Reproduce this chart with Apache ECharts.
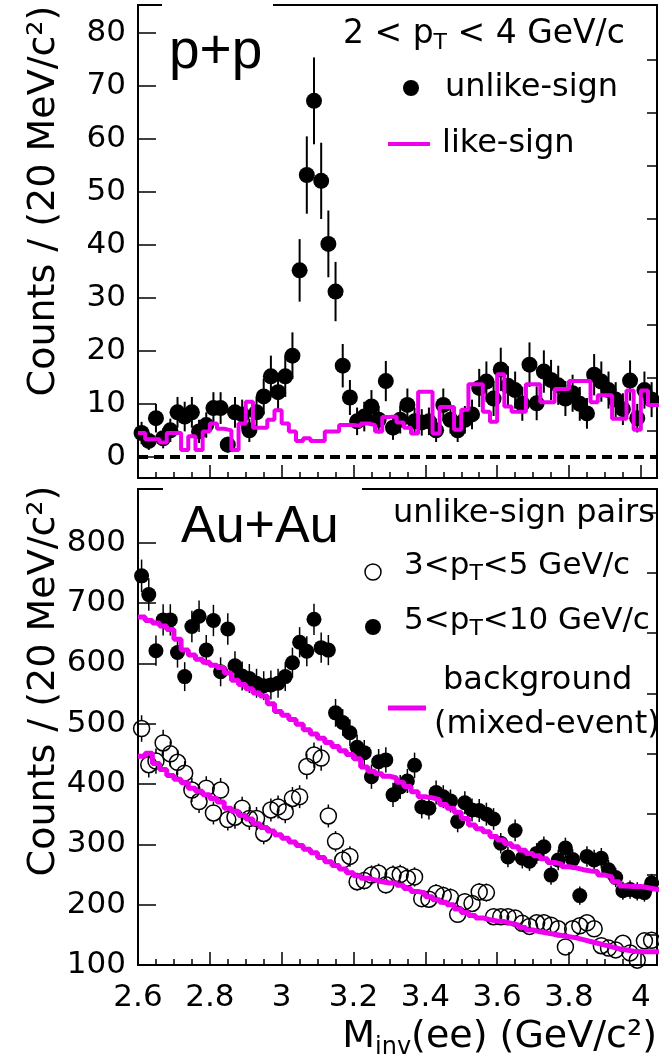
<!DOCTYPE html>
<html>
<head>
<meta charset="utf-8">
<script src="https://cdn.jsdelivr.net/npm/echarts@6/dist/echarts.min.js"></script>
<style>
  html, body { margin: 0; padding: 0; background: #fff; }
  #main { width: 659px; height: 1063px; }
</style>
</head>
<body>
<div id="main"></div>
<script>
var FONT = "'DejaVu Sans', sans-serif";
var BIG_FONT = "'Liberation Sans', Arial, sans-serif";
var MAG = '#ee00ee';

// 20 MeV bins starting at 2.6 GeV/c^2
var binStart = 2.6, binWidth = 0.02;

var xTicks = [2.6, 2.8, 3, 3.2, 3.4, 3.6, 3.8, 4];
var ppTicks = [0, 10, 20, 30, 40, 50, 60, 70, 80];
var ppMinor = [5, 15, 25, 35, 45, 55, 65, 75];
var auTicks = [100, 200, 300, 400, 500, 600, 700, 800];
var auMinor = [150, 250, 350, 450, 550, 650, 750, 850];

// p+p, 2<pT<4 : unlike-sign counts and errors
var ppUnlike = [4.5, 3, 7.3, 3.5, 5, 8.4, 7.6, 8.4, 4.8, 6, 9.2, 9.2, 2.3, 8.4, 8, 5, 8.4, 11.4, 15.2, 12.2,
  15.2, 19.1, 35.2, 53.2, 67.2, 52.1, 40.2, 31.2, 17.2, 11.2, 6.7, 7.6, 9.5, 7, 14.3, 5.5, 7, 9.8, 6.7, 6.5,
  6.7, 5, 9.8, 7, 5, 7, 8, 13, 14.2, 11, 16.5, 13.4, 12.6, 10, 17.4, 10.1, 16.1, 14.5, 13.5, 11,
  12, 10, 8.2, 15.5, 14.2, 12.6, 10.8, 9, 14.4, 7.3, 12.6, 10.8];
var ppUnlikeErr = [2.1, 1.7, 2.7, 1.9, 2.2, 2.9, 2.8, 2.9, 2.2, 2.4, 3, 3, 1.5, 2.9, 2.8, 2.2, 2.9, 3.4, 3.9, 3.5,
  3.9, 4.4, 5.9, 7.3, 8.2, 7.2, 6.3, 5.6, 4.1, 3.3, 2.6, 2.8, 3.1, 2.6, 3.8, 2.3, 2.6, 3.1, 2.6, 2.5,
  2.6, 2.2, 3.1, 2.6, 2.2, 2.6, 2.8, 3.6, 3.8, 3.3, 4.1, 3.7, 3.5, 3.2, 4.2, 3.2, 4, 3.8, 3.7, 3.3,
  3.5, 3.2, 2.9, 3.9, 3.8, 3.5, 3.3, 3, 3.8, 2.7, 3.5, 3.3];
// p+p like-sign histogram
var ppLike = [4.5, 3.3, 3.3, 2.7, 4.5, 4.5, 1.3, 3.9, 1.3, 4.8, 6.3, 5.3, 5, 1.3, 6.3, 10.4, 5.5, 5.5, 7, 8.8,
  6.3, 4.8, 3, 3.5, 3, 3, 4.8, 4.8, 6, 6, 5.8, 6.3, 6, 4.8, 7.5, 7.6, 6.5, 5.5, 4.4, 12.3,
  12.3, 4.4, 9.4, 9.4, 5.1, 8.9, 13.7, 13.7, 8.5, 6.6, 15.6, 9.5, 8.5, 8.5, 13.7, 13.7, 10.3, 10.3, 12.8, 12.8,
  14.3, 14.3, 14.3, 10.3, 11.6, 11.6, 7.2, 7.2, 12.5, 5.1, 12.5, 9.8, 9.8];

// Au+Au unlike-sign pairs
var auLow = [492, 432, 438, 468, 450, 436, 418, 390, 371, 393, 352, 390, 341, 345, 360, 343, 343, 318, 357, 362,
  354, 376, 379, 429, 448, 443, 347, 305, 274, 280, 238, 240, 249, 252, 233, 249, 250, 244, 246, 210,
  209, 219, 215, 212, 184, 205, 202, 221, 220, 180, 180, 180, 178, 169, 164, 170, 170, 166, 160, 130,
  160, 165, 170, 160, 132, 128, 125, 136, 120, 108, 140, 141];
var auLowErr = [22, 21, 21, 22, 21, 21, 20, 20, 19, 20, 19, 20, 18, 19, 19, 19, 19, 18, 19, 19,
  19, 19, 19, 21, 21, 21, 19, 17, 17, 17, 15, 15, 16, 16, 15, 16, 16, 16, 16, 14,
  14, 15, 15, 15, 14, 14, 14, 15, 15, 13, 13, 13, 13, 13, 13, 13, 13, 13, 13, 11,
  13, 13, 13, 13, 11, 11, 11, 12, 11, 10, 12, 12];
var auHigh = [745, 714, 621, 672, 672, 618, 578, 661, 678, 622, 671, 586, 657, 596, 579, 575, 567, 563, 564, 567,
  578, 601, 635, 620, 673, 626, 622, 518, 502, 485, 461, 452, 412, 437, 440, 382, 395, 405, 431, 362,
  360, 386, 379, 372, 338, 369, 357, 356, 350, 342, 302, 279, 323, 277, 272, 285, 296, 249, 274, 294,
  275, 215, 280, 274, 277, 258, 245, 223, 225, 222, 220, 236];
var auHighErr = [27, 27, 25, 26, 26, 25, 24, 26, 26, 25, 26, 24, 26, 24, 24, 24, 24, 24, 24, 24,
  24, 25, 25, 25, 26, 25, 25, 23, 22, 22, 21, 21, 20, 21, 21, 20, 20, 20, 21, 19,
  19, 20, 19, 19, 18, 19, 19, 19, 19, 18, 17, 17, 18, 17, 16, 17, 17, 16, 17, 17,
  17, 15, 17, 17, 17, 16, 16, 15, 15, 15, 15, 15];
// mixed-event backgrounds
var auBgLow = [446, 451, 434, 424, 414, 408, 402, 393, 388, 382, 376, 370, 360, 355, 348, 342, 334, 328, 322, 316,
  310, 304, 298, 292, 286, 278, 271, 265, 259, 253, 248, 244, 241, 238, 236, 236, 232, 227, 222, 219,
  213, 208, 204, 200, 193, 187, 182, 178, 175, 173, 172, 169, 166, 162, 158, 155, 153, 151, 149, 147,
  145, 142, 139, 136, 133, 130, 127, 125, 123, 122, 122, 122, 122];
var auBgHigh = [677, 671, 667, 662, 656, 640, 622, 614, 607, 602, 597, 593, 584, 572, 565, 558, 551, 546, 533, 520,
  514, 507, 499, 490, 483, 476, 469, 462, 455, 449, 442, 428, 421, 417, 413, 410, 403, 396, 387, 379,
  377, 374, 366, 360, 353, 343, 332, 326, 321, 313, 307, 301, 296, 290, 285, 281, 276, 270, 267, 263,
  261, 258, 256, 255, 249, 246, 238, 231, 230, 230, 228, 226, 224];

var xMinor = [];
for (var i = 1; i <= 28; i++) {
  if (i % 4 !== 0) xMinor.push(+(2.6 + 0.05 * i).toFixed(2));
}

function binCenter(k) { return +(binStart + binWidth * (k + 0.5)).toFixed(3); }
function points(vals, errs) {
  return vals.map(function (v, k) { return [binCenter(k), v, errs ? errs[k] : 0]; });
}
function steps(vals) {
  var d = vals.map(function (v, k) { return [+(binStart + binWidth * k).toFixed(3), v]; });
  d.push([+(binStart + binWidth * vals.length).toFixed(3), vals[vals.length - 1]]);
  return d;
}

function errorBars(gap, width) {
  return function (params, api) {
    var x = api.value(0), y = api.value(1), e = api.value(2);
    var c = api.coord([x, y]);
    var hi = api.coord([x, y + e]);
    var lo = api.coord([x, y - e]);
    var st = { stroke: '#000', lineWidth: width };
    var kids = [];
    if (c[1] - hi[1] > gap) kids.push({ type: 'line', shape: { x1: c[0], y1: hi[1], x2: c[0], y2: c[1] - gap }, style: st });
    if (lo[1] - c[1] > gap) kids.push({ type: 'line', shape: { x1: c[0], y1: c[1] + gap, x2: c[0], y2: lo[1] }, style: st });
    return { type: 'group', children: kids };
  };
}

function xAxes(grid, labels) {
  return [{
    type: 'value', gridIndex: grid, min: 2.6, max: 4.045, position: 'bottom',
    axisLine: { onZero: false, lineStyle: { color: '#000', width: 2 } },
    axisTick: { inside: true, length: 13, customValues: xTicks, lineStyle: { color: '#000', width: 1.5 } },
    axisLabel: { show: labels, customValues: xTicks, margin: 17, color: '#000', fontSize: 31, fontFamily: FONT },
    splitLine: { show: false }
  }, {
    type: 'value', gridIndex: grid, min: 2.6, max: 4.045, position: 'bottom',
    axisLine: { show: false, onZero: false },
    axisTick: { inside: true, length: 6, customValues: xMinor, lineStyle: { color: '#000', width: 1.5 } },
    axisLabel: { show: false },
    splitLine: { show: false }
  }];
}

function yAxes(grid, min, max, major, minor) {
  return [{
    type: 'value', gridIndex: grid, min: min, max: max,
    axisLine: { show: true, onZero: false, lineStyle: { color: '#000', width: 2 } },
    axisTick: { show: true, inside: true, length: 18, customValues: major, lineStyle: { color: '#000', width: 1.5 } },
    axisLabel: { customValues: major, margin: 12, color: '#000', fontSize: 31, fontFamily: FONT },
    splitLine: { show: false }
  }, {
    type: 'value', gridIndex: grid, min: min, max: max,
    axisLine: { show: false, onZero: false },
    axisTick: { show: true, inside: true, length: 10, customValues: minor, lineStyle: { color: '#000', width: 1.5 } },
    axisLabel: { show: false },
    splitLine: { show: false }
  }];
}

function label(x, y, text, size, family) {
  return {
    type: 'text', x: x, y: y, z: 101,
    style: {
      text: text, fontSize: size, fontFamily: family || FONT, fill: '#000',
      textAlign: 'left', align: 'left', textVerticalAlign: 'middle', verticalAlign: 'middle'
    }
  };
}

// text with a subscript part, e.g. p_T
function subLabel(x, yMid, text, size, subSize, drop, alignRight) {
  var lh = size + 4;
  return {
    type: 'text', x: x, y: yMid - lh / 2, z: 101,
    style: {
      text: text, fill: '#000',
      textAlign: alignRight ? 'right' : 'left', align: alignRight ? 'right' : 'left',
      textVerticalAlign: 'top', verticalAlign: 'top',
      rich: {
        n: { fontSize: size, fontFamily: FONT, lineHeight: lh, verticalAlign: 'top', fill: '#000' },
        s: { fontSize: subSize, fontFamily: FONT, lineHeight: subSize, verticalAlign: 'bottom',
             padding: [lh / 2 + drop - subSize / 2, 0, 0, 0], fill: '#000' }
      }
    }
  };
}

var chart = echarts.init(document.getElementById('main'));

var option = {
  animation: false,
  backgroundColor: '#fff',
  grid: [
    { left: 138, top: 5, width: 519, height: 473, show: true, borderColor: '#000', borderWidth: 2, backgroundColor: 'transparent' },
    { left: 138, top: 489, width: 519, height: 476, show: true, borderColor: '#000', borderWidth: 2, backgroundColor: 'transparent' }
  ],
  xAxis: xAxes(0, false).concat(xAxes(1, true)),
  yAxis: yAxes(0, -4, 85.3, ppTicks, ppMinor).concat(yAxes(1, 100, 889, auTicks, auMinor)),
  series: [
    {
      type: 'custom', name: 'pp-err', xAxisIndex: 0, yAxisIndex: 0, z: 2, clip: true,
      renderItem: errorBars(0, 2), data: points(ppUnlike, ppUnlikeErr), silent: true
    },
    {
      type: 'scatter', name: 'unlike-sign', xAxisIndex: 0, yAxisIndex: 0, z: 3,
      symbol: 'circle', symbolSize: 16, itemStyle: { color: '#000', opacity: 1 },
      data: points(ppUnlike).map(function (p) { return [p[0], p[1]]; }), silent: true,
      markLine: {
        silent: true, symbol: 'none', label: { show: false },
        lineStyle: { color: '#000', width: 4, type: [10, 6], opacity: 1 },
        data: [{ yAxis: 0 }]
      }
    },
    {
      type: 'line', name: 'like-sign', xAxisIndex: 0, yAxisIndex: 0, z: 4, step: 'end',
      showSymbol: false, symbol: 'none', lineStyle: { color: MAG, width: 4 },
      data: steps(ppLike), silent: true
    },
    {
      type: 'custom', name: 'low-err', xAxisIndex: 2, yAxisIndex: 2, z: 2, clip: true,
      renderItem: errorBars(8, 1.5), data: points(auLow, auLowErr), silent: true
    },
    {
      type: 'custom', name: 'high-err', xAxisIndex: 2, yAxisIndex: 2, z: 2, clip: true,
      renderItem: errorBars(0, 1.5), data: points(auHigh, auHighErr), silent: true
    },
    {
      type: 'scatter', name: '3<pT<5', xAxisIndex: 2, yAxisIndex: 2, z: 3,
      symbol: 'circle', symbolSize: 16,
      itemStyle: { color: 'rgba(0,0,0,0)', borderColor: '#000', borderWidth: 1.5, opacity: 1 },
      data: points(auLow).map(function (p) { return [p[0], p[1]]; }), silent: true
    },
    {
      type: 'scatter', name: '5<pT<10', xAxisIndex: 2, yAxisIndex: 2, z: 3,
      symbol: 'circle', symbolSize: 15, itemStyle: { color: '#000', opacity: 1 },
      data: points(auHigh).map(function (p) { return [p[0], p[1]]; }), silent: true
    },
    {
      type: 'line', name: 'bg-low', xAxisIndex: 2, yAxisIndex: 2, z: 4, step: 'end',
      showSymbol: false, symbol: 'none', lineStyle: { color: MAG, width: 5 },
      data: steps(auBgLow), silent: true
    },
    {
      type: 'line', name: 'bg-high', xAxisIndex: 2, yAxisIndex: 2, z: 4, step: 'end',
      showSymbol: false, symbol: 'none', lineStyle: { color: MAG, width: 5 },
      data: steps(auBgHigh), silent: true
    }
  ],
  graphic: {
    elements: [
      // gaps in the frames behind the panel labels
      { type: 'rect', z: 100, shape: { x: 162, y: 0, width: 111, height: 12 }, style: { fill: '#fff' } },
      { type: 'rect', z: 100, shape: { x: 163, y: 482, width: 199, height: 13 }, style: { fill: '#fff' } },
      label(169, 53, 'p+p', 55, BIG_FONT),
      label(181, 528, 'Au+Au', 52, BIG_FONT),

      // top legend
      subLabel(343, 36, '{n|2 < p}{s|T}{n| < 4 GeV/c}', 33, 22, 16),
      { type: 'circle', z: 101, shape: { cx: 411, cy: 88, r: 8 }, style: { fill: '#000' } },
      label(445, 88, 'unlike-sign', 32),
      { type: 'line', z: 101, shape: { x1: 388, y1: 144, x2: 430, y2: 144 }, style: { stroke: MAG, lineWidth: 4 } },
      label(442, 144, 'like-sign', 32),

      // bottom legend
      label(393, 514, 'unlike-sign pairs', 32),
      { type: 'circle', z: 101, shape: { cx: 373, cy: 572, r: 8 }, style: { fill: 'rgba(0,0,0,0)', stroke: '#000', lineWidth: 1.5 } },
      subLabel(404, 568, '{n|3<p}{s|T}{n|<5 GeV/c}', 31, 22, 16),
      { type: 'circle', z: 101, shape: { cx: 373, cy: 627, r: 8 }, style: { fill: '#000' } },
      subLabel(404, 623, '{n|5<p}{s|T}{n|<10 GeV/c}', 31, 22, 16),
      { type: 'line', z: 101, shape: { x1: 388, y1: 708, x2: 426, y2: 708 }, style: { stroke: MAG, lineWidth: 5 } },
      label(443, 681, 'background', 32),
      label(434, 725, '(mixed-event)', 32),

      // axis titles
      {
        type: 'text', x: 44, y: 201, rotation: Math.PI / 2, z: 101,
        style: { text: 'Counts / (20 MeV/c²)', fontSize: 38, fontFamily: FONT, fill: '#000',
                 textAlign: 'center', align: 'center', textVerticalAlign: 'middle', verticalAlign: 'middle' }
      },
      {
        type: 'text', x: 44, y: 681, rotation: Math.PI / 2, z: 101,
        style: { text: 'Counts / (20 MeV/c²)', fontSize: 38, fontFamily: FONT, fill: '#000',
                 textAlign: 'center', align: 'center', textVerticalAlign: 'middle', verticalAlign: 'middle' }
      },
      subLabel(657, 1039, '{n|M}{s|inv}{n|(ee) (GeV/c²)}', 38, 24, 16, true)
    ]
  }
};

option && chart.setOption(option);
window.addEventListener('resize', function () {
  chart.resize();
});
</script>
</body>
</html>
